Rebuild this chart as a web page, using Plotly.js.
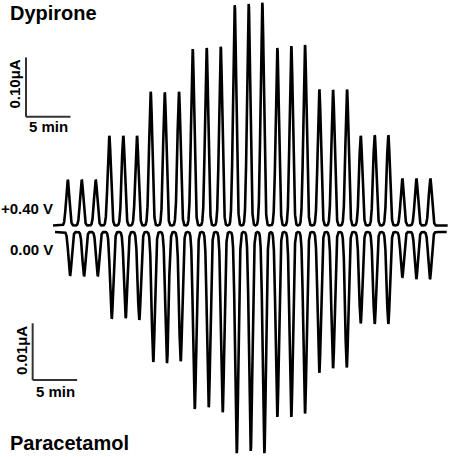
<!DOCTYPE html>
<html>
<head>
<meta charset="utf-8">
<script src="https://cdn.plot.ly/plotly-3.0.1.min.js"></script>
<style>html,body{margin:0;padding:0;background:#fff;}#chart{width:450px;height:457px;}</style>
</head>
<body>
<div id="chart"></div>
<script>
// ---- Data ----
// Dypirone, detected at +0.40 V: injection peak times (min) and peak currents (uA)
const dypTime = [7.61, 9.18, 10.75, 12.28, 13.85, 15.39, 16.93, 18.51, 20.11,
                 21.65, 23.22, 24.80, 26.37, 27.94, 29.47, 31.16, 32.73, 34.27,
                 35.88, 37.42, 38.99, 40.53, 42.10, 43.63, 45.20, 46.78, 48.35];
const dypPeak = [0.077, 0.077, 0.077, 0.151, 0.151, 0.151, 0.225, 0.224, 0.225,
                 0.297, 0.299, 0.301, 0.371, 0.373, 0.375, 0.299, 0.302, 0.304,
                 0.229, 0.228, 0.229, 0.151, 0.152, 0.152, 0.079, 0.079, 0.079];
// Paracetamol, detected at 0.00 V: peak times (min) and peak currents (uA, cathodic)
const paraTime = [7.87, 9.44, 10.98, 12.55, 14.12, 15.65, 17.22, 18.76, 20.30,
                  21.88, 23.45, 25.02, 26.60, 28.17, 29.70, 31.16, 32.73, 34.27,
                  35.88, 37.42, 38.96, 40.53, 42.10, 43.63, 45.20, 46.78, 48.31];
const paraPeak = [-0.0077, -0.0078, -0.0078, -0.0153, -0.0152, -0.0155, -0.0229, -0.0231, -0.0228,
                  -0.0312, -0.0309, -0.0318, -0.0390, -0.0386, -0.0390, -0.0326, -0.0326, -0.0320,
                  -0.0248, -0.0240, -0.0239, -0.0161, -0.0162, -0.0162, -0.0080, -0.0083, -0.0083];
// recording windows (min)
const dypRun = [5.96, 50.30];
const paraRun = [6.18, 50.19];
// scale bars
const timeBar = 5;          // min
const dypBar = 0.10;        // uA
const paraBar = 0.01;       // uA
// text
const labels = {dyp: "Dypirone", para: "Paracetamol", vDyp: "+0.40 V", vPara: "0.00 V",
                dypBar: "0.10μA", paraBar: "0.01μA", time: "5 min"};

// ---- detector peak profile ----
const PEAK_SIGMA = 0.18; // min
function amperogram(times, peaks, run) {
  const xs = [], ys = [];
  const step = 0.01;
  for (let t = run[0]; t <= run[1] + 1e-9; t += step) {
    let y = 0;
    for (let i = 0; i < times.length; i++) {
      const d = (t - times[i]) / PEAK_SIGMA;
      if (Math.abs(d) < 8) y += peaks[i] * Math.exp(-0.5 * d * d);
    }
    xs.push(+t.toFixed(3)); ys.push(y);
  }
  return {xs, ys};
}

const dypSig = amperogram(dypTime, dypPeak, dypRun);
const paraSig = amperogram(paraTime, paraPeak, paraRun);

const W = 450, H = 457;
const pxPerMin = 8.9;
const FONT = "Liberation Sans, Arial, Helvetica, sans-serif";

const traces = [
  {x: dypSig.xs, y: dypSig.ys, type: "scatter", mode: "lines", yaxis: "y",
   line: {color: "#000", width: 2.6}, hoverinfo: "skip"},
  {x: paraSig.xs, y: paraSig.ys, type: "scatter", mode: "lines", yaxis: "y2",
   line: {color: "#000", width: 2.6}, hoverinfo: "skip"}
];

function note(text, px, py, size, extra) {
  return Object.assign({
    text: text, x: px / W, y: 1 - py / H, xref: "paper", yref: "paper",
    xanchor: "center", yanchor: "middle", showarrow: false,
    font: {family: FONT, size: size, color: "#000", weight: "bold"}
  }, extra || {});
}

// scale bar anchor positions (data coords)
const tb = {x: 2.92, y: 0.183};
const bb = {x: 3.67, y: -0.0261};
const barLine = {color: "#333", width: 2};

const layout = {
  width: W, height: H,
  margin: {l: 0, r: 0, t: 0, b: 0},
  paper_bgcolor: "#fff", plot_bgcolor: "#fff",
  showlegend: false,
  xaxis: {range: [0, W / pxPerMin], visible: false, fixedrange: true},
  yaxis: {range: [-0.3898, 0.3797], visible: false, fixedrange: true},
  yaxis2: {range: [-0.03968, 0.04092], visible: false, overlaying: "y", fixedrange: true},
  shapes: [
    {type: "line", xref: "x", yref: "y", x0: tb.x, x1: tb.x, y0: tb.y, y1: tb.y + dypBar, line: barLine},
    {type: "line", xref: "x", yref: "y", x0: tb.x, x1: tb.x + timeBar, y0: tb.y, y1: tb.y, line: barLine},
    {type: "line", xref: "x", yref: "y2", x0: bb.x, x1: bb.x, y0: bb.y, y1: bb.y + paraBar, line: barLine},
    {type: "line", xref: "x", yref: "y2", x0: bb.x, x1: bb.x + timeBar, y0: bb.y, y1: bb.y, line: barLine}
  ],
  annotations: [
    note(labels.dyp, 8, 13, 20, {xanchor: "left"}),
    note(labels.para, 8, 443, 20, {xanchor: "left"}),
    note(labels.vDyp, 26.7, 208, 15),
    note(labels.vPara, 31.7, 249, 15),
    note(labels.dypBar, 13.5, 84, 15, {textangle: -90}),
    note(labels.time, 48, 126, 15),
    note(labels.paraBar, 21, 351, 15, {textangle: -90}),
    note(labels.time, 55, 391, 15)
  ]
};

Plotly.newPlot("chart", traces, layout, {displayModeBar: false, staticPlot: true});
</script>
</body>
</html>
